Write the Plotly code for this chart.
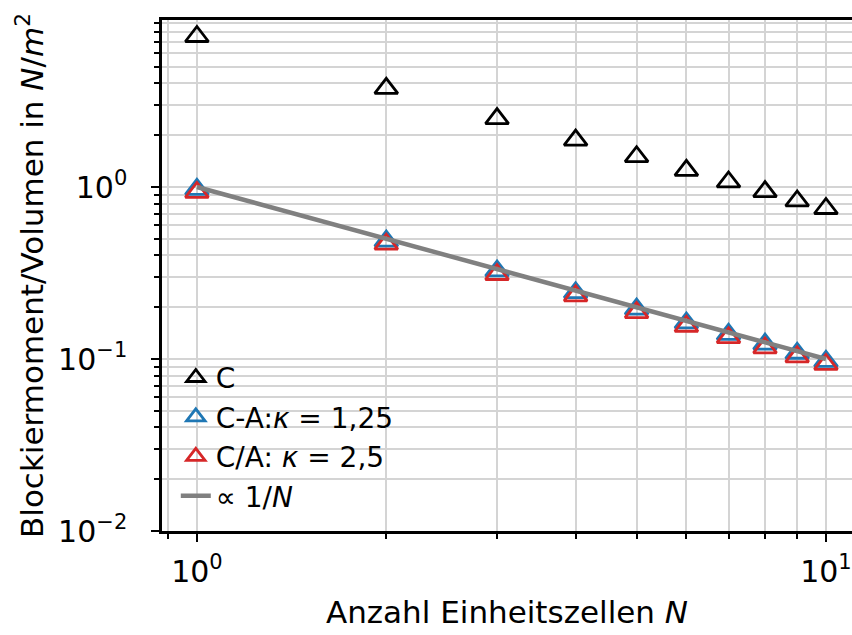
import plotly.graph_objects as go

N = [1, 2, 3, 4, 5, 6, 7, 8, 9, 10]
C_vals = [7.5, 3.75, 2.5, 1.875, 1.5, 1.25, 1.07, 0.94, 0.83, 0.75]
CA_vals = [0.97, 0.485, 0.325, 0.243, 0.195, 0.162, 0.139, 0.122, 0.108, 0.097]
CdA_vals = [0.93, 0.465, 0.31, 0.233, 0.186, 0.155, 0.133, 0.116, 0.103, 0.093]
ref_vals = [1.0, 0.5, 0.3333, 0.25, 0.2, 0.1667, 0.1429, 0.125, 0.1111, 0.1]

x_major = [1, 10]
x_major_text = ["10<sup>0</sup>", "10<sup>1</sup>"]
x_minor = [0.9, 2, 3, 4, 5, 6, 7, 8, 9]
y_major = [0.01, 0.1, 1]
y_major_text = ["10<sup>−2</sup>", "10<sup>−1</sup>", "10<sup>0</sup>"]
y_minor = [m * d for d in (0.01, 0.1, 1) for m in range(2, 10)]

FONT = "DejaVu Sans"
GRID = "#d4d4d4"
FS = 31

fig = go.Figure()
fig.add_trace(go.Scatter(x=N, y=C_vals, mode="markers", name="C",
                         marker=dict(symbol="triangle-up-open", size=20, color="black",
                                     line=dict(width=2.8, color="black"))))
fig.add_trace(go.Scatter(x=N, y=CA_vals, mode="markers", name="C-A:<i>κ</i> = 1,25",
                         marker=dict(symbol="triangle-up-open", size=20, color="#1f77b4",
                                     line=dict(width=2.8, color="#1f77b4"))))
fig.add_trace(go.Scatter(x=N, y=CdA_vals, mode="markers", name="C/A: <i>κ</i> = 2,5",
                         marker=dict(symbol="triangle-up-open", size=20, color="#d62728",
                                     line=dict(width=2.8, color="#d62728"))))
fig.add_trace(go.Scatter(x=N, y=ref_vals, mode="lines", name="∝ 1/<i>N</i>",
                         line=dict(color="#808080", width=4.5)))

fig.update_layout(
    width=852, height=635,
    margin=dict(l=162, r=0, t=20, b=104),
    paper_bgcolor="white", plot_bgcolor="white",
    font=dict(family=FONT, size=FS, color="black"),
    showlegend=True,
    legend=dict(x=0.02, y=0.02, xanchor="left", yanchor="bottom",
                bgcolor="rgba(0,0,0,0)", font=dict(size=28), tracegroupgap=0,
                itemwidth=30),
)
fig.update_xaxes(
    type="log", range=[-0.0555, 1.0414],
    tickmode="array", tickvals=x_major, ticktext=x_major_text,
    tickfont=dict(size=30), ticklabeloverflow="allow",
    ticks="outside", ticklen=8, tickwidth=2, tickcolor="black",
    ticklabelstandoff=4,
    showline=True, linecolor="black", linewidth=2.5, mirror=True,
    showgrid=True, gridcolor=GRID, gridwidth=2,
    minor=dict(tickmode="array", tickvals=x_minor, ticks="outside", ticklen=5,
               tickwidth=1.5, tickcolor="black", showgrid=True, gridcolor=GRID, gridwidth=2),
    title=dict(text="Anzahl Einheitszellen <i>N</i>", font=dict(size=FS), standoff=14),
    zeroline=False, automargin=False,
)
fig.update_yaxes(
    type="log", range=[-2, 0.971],
    tickmode="array", tickvals=y_major, ticktext=y_major_text,
    tickfont=dict(size=30),
    ticks="outside", ticklen=8, tickwidth=2, tickcolor="black",
    ticklabelstandoff=18,
    showline=True, linecolor="black", linewidth=2.5,
    showgrid=True, gridcolor=GRID, gridwidth=2,
    minor=dict(tickmode="array", tickvals=y_minor, ticks="outside", ticklen=5,
               tickwidth=1.5, tickcolor="black", showgrid=True, gridcolor=GRID, gridwidth=2),
    title=dict(text="Blockiermoment/Volumen in <i>N</i>/<i>m</i><sup>2</sup>",
               font=dict(size=FS), standoff=6),
    zeroline=False, automargin=False,
)

fig.write_html("out.html")
